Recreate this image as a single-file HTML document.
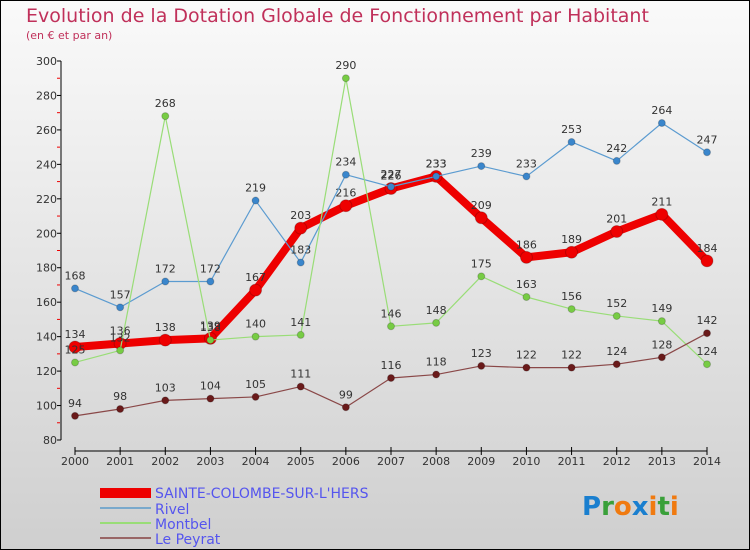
<!DOCTYPE html>
<html><head><meta charset="utf-8"><style>
body{margin:0;width:750px;height:550px;overflow:hidden;font-family:"DejaVu Sans","Liberation Sans",sans-serif}
svg{display:block}
</style></head><body>
<svg width="750" height="550">
<defs><linearGradient id="bg" x1="0" y1="0" x2="0" y2="1"><stop offset="0" stop-color="#fafafa"/><stop offset="1" stop-color="#cfcfcf"/></linearGradient></defs>
<rect x="0.5" y="0.5" width="749" height="549" fill="url(#bg)" stroke="#000"/>
<text x="26" y="22" font-size="19" fill="#c0305a">Evolution de la Dotation Globale de Fonctionnement par Habitant</text>
<text x="26" y="39" font-size="11" fill="#c0305a">(en € et par an)</text>
<g id="axes"></g>
<g id="plot"></g>
<g>
<rect x="100" y="488" width="51" height="10" fill="#e00"/>
<text x="155" y="498" font-size="14" fill="#5555ee">SAINTE-COLOMBE-SUR-L'HERS</text>
<rect x="100" y="507" width="51" height="2" fill="#79a9cc"/>
<text x="155" y="514" font-size="14" fill="#5555ee">Rivel</text>
<rect x="100" y="522" width="51" height="2" fill="#99dd77"/>
<text x="155" y="529" font-size="14" fill="#5555ee">Montbel</text>
<rect x="100" y="537" width="51" height="2" fill="#996666"/>
<text x="155" y="544" font-size="14" fill="#5555ee">Le Peyrat</text>
</g>
<g font-size="26" font-family="DejaVu Sans,sans-serif" font-weight="bold">
<text x="582" y="515"><tspan fill="#1a7fcf">P</tspan><tspan fill="#3aa03a">r</tspan><tspan fill="#f07a10">o</tspan><tspan fill="#1a7fcf">x</tspan><tspan fill="#f07a10">i</tspan><tspan fill="#3aa03a">t</tspan><tspan fill="#f07a10">i</tspan></text>
</g>
</svg>
<script>
const years=["2000","2001","2002","2003","2004","2005","2006","2007","2008","2009","2010","2011","2012","2013","2014"];
const yTicks=[80,100,120,140,160,180,200,220,240,260,280,300];
const sainteColombe=[134,136,138,139,167,203,216,226,233,209,186,189,201,211,184];
const rivel=[168,157,172,172,219,183,234,227,233,239,233,253,242,264,247];
const montbel=[125,132,268,138,140,141,290,146,148,175,163,156,152,149,124];
const lePeyrat=[94,98,103,104,105,111,99,116,118,123,122,122,124,128,142];
const NS="http://www.w3.org/2000/svg";
const X0=75,X1=707,Y0=440,Y1=61,VMIN=80,VMAX=300;
const xs=i=>X0+(X1-X0)*i/(years.length-1);
const ys=v=>Y0-(Y0-Y1)*(v-VMIN)/(VMAX-VMIN);
function mk(t,a,p){const e=document.createElementNS(NS,t);for(const k in a)e.setAttribute(k,a[k]);p.appendChild(e);return e;}
const ax=document.getElementById('axes'),pl=document.getElementById('plot');
let e=mk('line',{x1:61,y1:Y1,x2:61,y2:Y0,stroke:'#000'},ax);


e=mk('line',{x1:X0,y1:451,x2:X1,y2:451,stroke:'#000'},ax);


yTicks.forEach(v=>{const y=ys(v);mk('line',{x1:57,y1:y,x2:61,y2:y,stroke:'#000'},ax);
 if(v<300){mk('line',{x1:57,y1:ys(v+10),x2:60,y2:ys(v+10),stroke:'#e00'},ax);}
 const t=mk('text',{x:57,y:y+4,'font-size':11,fill:'#333','text-anchor':'end'},ax);t.textContent=v;
 
 });
years.forEach((yr,i)=>{const x=xs(i);mk('line',{x1:x,y1:447,x2:x,y2:455,stroke:'#000'},ax);
 const t=mk('text',{x:x,y:465,'font-size':11,fill:'#333','text-anchor':'middle'},ax);t.textContent=yr;
 
 });
function series(data,name,color,lw,r,fill){const g=mk('g',{},pl);
 
 
 const p=mk('polyline',{points:data.map((v,i)=>xs(i)+','+ys(v)).join(' '),fill:'none',stroke:color,'stroke-width':lw,'stroke-linejoin':'round'},g);
 
 
 data.forEach((v,i)=>{const c=mk('circle',{cx:xs(i),cy:ys(v),r:r,fill:fill,stroke:'#0003','stroke-width':1},g);
  
  
  const t=mk('text',{x:xs(i),y:ys(v)-9,'font-size':11,fill:'#333','text-anchor':'middle'},g);t.textContent=v;
  
  });}
series(sainteColombe,'sainte-colombe','#e00',8,6,'#e00');
series(rivel,'rivel','#5b9bd0',1.2,3.5,'#3a86cc');
series(montbel,'montbel','#99dd77',1.2,3.5,'#77cc44');
series(lePeyrat,'le-peyrat','#8a4848',1.2,3.5,'#6a1a1a');
</script>
</body></html>
